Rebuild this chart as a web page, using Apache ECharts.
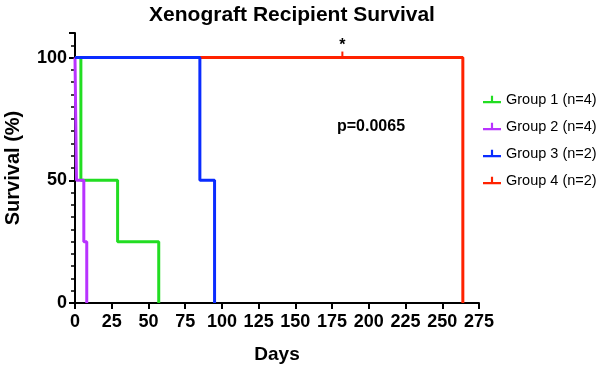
<!DOCTYPE html>
<html>
<head>
<meta charset="utf-8">
<script src="https://cdn.jsdelivr.net/npm/echarts@6/dist/echarts.min.js"></script>
<style>
  html, body { margin: 0; padding: 0; background: #fff; }
  #main { width: 600px; height: 367px; }
</style>
</head>
<body>
<div id="main"></div>
<script>
// survival steps: [day, percent]
var group1 = [[0, 100], [4, 50], [29, 25], [57, 0]];
var group2 = [[0, 100], [1, 50], [6, 25], [8, 0]];
var group3 = [[0, 100], [85, 50], [95, 0]];
var group4 = [[0, 100], [264, 0]];
var censorDay = 182;
var groupNames = ['Group 1 (n=4)', 'Group 2 (n=4)', 'Group 3 (n=2)', 'Group 4 (n=2)'];
var groupColors = ['#22dd22', '#b833ff', '#0a2cff', '#ff2200'];

var font = 'Liberation Sans, Arial, sans-serif';
var legendIcon = 'path://M0,8h20v2.5h-20z M8.8,2h2.4v6h-2.4z';

var chart = echarts.init(document.getElementById('main'));

function kmSeries(name, data, color, z) {
  return {
    name: name,
    type: 'line',
    step: 'end',
    data: data,
    symbol: 'none',
    color: color,
    z: z,
    lineStyle: { width: 3, color: color },
    emphasis: { disabled: true },
    animation: false
  };
}

var s4 = kmSeries(groupNames[3], group4, groupColors[3], 2);
s4.markPoint = {
  silent: true,
  animation: false,
  data: [
    { coord: [censorDay, 100], symbol: 'rect', symbolSize: [2, 6], symbolOffset: [0, -3],
      itemStyle: { color: groupColors[3] }, label: { show: false } },
    { coord: [censorDay, 100], symbol: 'rect', symbolSize: [0, 0],
      label: { show: true, formatter: '*', position: 'top', distance: 4,
               color: '#000', fontSize: 16, fontWeight: 'bold', fontFamily: font } }
  ]
};

var option = {
  backgroundColor: '#fff',
  title: {
    text: 'Xenograft Recipient Survival',
    left: 287,
    textAlign: 'center',
    top: 0,
    textStyle: { fontFamily: font, fontWeight: 'bold', fontSize: 21, color: '#000' }
  },
  legend: {
    orient: 'vertical',
    left: 478,
    top: 87,
    itemWidth: 18,
    itemHeight: 10,
    itemGap: 12,
    icon: legendIcon,
    data: groupNames,
    textStyle: { fontFamily: font, fontSize: 14.5, color: '#000' }
  },
  grid: { left: 75, right: 121, top: 33, bottom: 64, outerBoundsMode: 'none', containLabel: false },
  xAxis: {
    type: 'value',
    min: 0, max: 275, interval: 25,
    name: 'Days',
    nameLocation: 'middle',
    nameGap: 42,
    nameTextStyle: { fontFamily: font, fontWeight: 'bold', fontSize: 19, color: '#000' },
    axisLine: { lineStyle: { color: '#000', width: 2 } },
    axisTick: { show: true, length: 6, lineStyle: { color: '#000', width: 2 } },
    axisLabel: { fontFamily: font, fontWeight: 'bold', fontSize: 18, color: '#000', margin: 10 },
    splitLine: { show: false }
  },
  yAxis: {
    type: 'value',
    min: 0, max: 110, interval: 50,
    name: 'Survival (%)',
    nameLocation: 'middle',
    nameGap: 52,
    nameTextStyle: { fontFamily: font, fontWeight: 'bold', fontSize: 20, color: '#000' },
    axisLine: { show: true, lineStyle: { color: '#000', width: 2 } },
    axisTick: { show: true, length: 6, lineStyle: { color: '#000', width: 2 } },
    minorTick: { show: true, splitNumber: 10, length: 4, lineStyle: { color: '#000', width: 1.5 } },
    axisLabel: {
      fontFamily: font, fontWeight: 'bold', fontSize: 18, color: '#000', margin: 8,
      formatter: function (v) { return (v % 50 === 0) ? String(v) : ''; }
    },
    splitLine: { show: false }
  },
  graphic: [{
    type: 'text',
    left: 337,
    top: 119,
    style: { text: 'p=0.0065', fontFamily: font, fontWeight: 'bold', fontSize: 16, fill: '#000' }
  }],
  series: [
    s4,
    kmSeries(groupNames[0], group1, groupColors[0], 3),
    kmSeries(groupNames[1], group2, groupColors[1], 4),
    kmSeries(groupNames[2], group3, groupColors[2], 5)
  ]
};

chart.setOption(option);
</script>
</body>
</html>
